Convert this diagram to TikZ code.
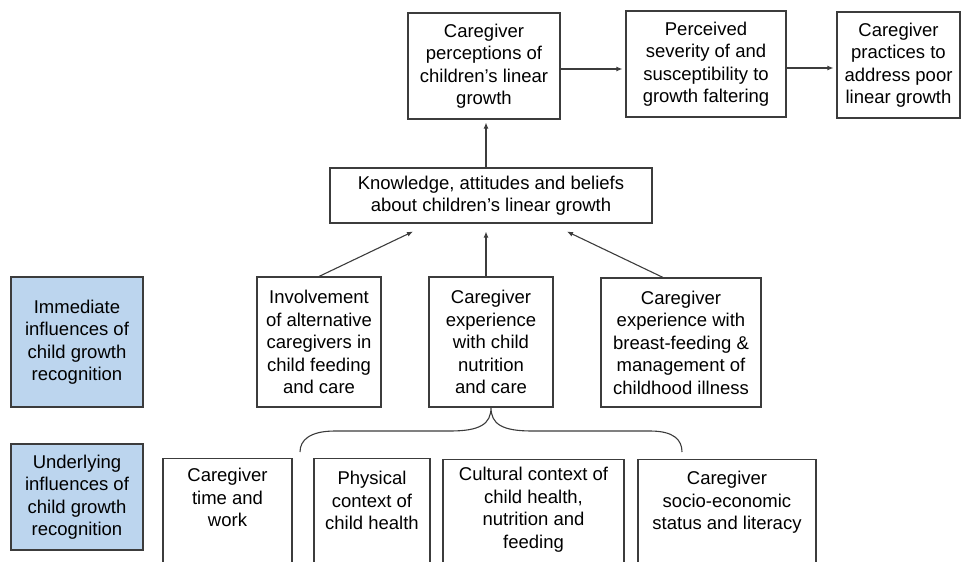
\documentclass[tikz,border=0pt]{standalone}
\usepackage{fontspec}
\setmainfont{Liberation Sans}
\usetikzlibrary{arrows.meta,positioning}
\definecolor{Edge}{HTML}{3C3C3C}
\definecolor{Band}{HTML}{BCD5EE}

\begin{document}
\begin{tikzpicture}[x=1pt,y=-1pt,
      stage/.style={draw=Edge,line width=1.1pt,fill=white,inner sep=0pt,align=center,font=\fontsize{18.5}{22.5}\selectfont},
      band/.style={stage,fill=Band},
      openbox/.style={draw=Edge,line width=1.1pt,inner sep=0pt,minimum height=150pt,anchor=north},
      note/.style={align=center,inner sep=0pt,font=\fontsize{18.5}{22.5}\selectfont},
      arr/.style={-{Latex[length=6pt,width=5pt]},line width=1.1pt,draw=Edge}]
      \useasboundingbox (0,0) rectangle (961,562);
      % pathway along the top
      \node[stage,minimum width=152pt,minimum height=106pt] (perc) at (484,66) {Caregiver\\perceptions of\\children’s linear\\growth};
      \node[stage,minimum width=160pt,minimum height=106pt] (sev) at (706,64) {Perceived\\severity of and\\susceptibility to\\growth faltering};
      \node[stage,minimum width=123pt,minimum height=106pt] (prac) at (898.5,65) {Caregiver\\practices to\\address poor\\linear growth};
      \node[stage,minimum width=322pt,minimum height=55pt] (know) at (491,195.5) {Knowledge, attitudes and beliefs\\about children’s linear growth};
      % immediate influences
      \node[band,minimum width=132pt,minimum height=130pt] (imm) at (77,342) {Immediate\\influences of\\child growth\\recognition};
      \node[stage,minimum width=124pt,minimum height=130pt] (inv) at (319,342) {Involvement\\of alternative\\caregivers in\\child feeding\\and care};
      \node[stage,minimum width=124pt,minimum height=130pt] (exp) at (491,342) {Caregiver\\experience\\with child\\nutrition\\and care};
      \node[stage,minimum width=160pt,minimum height=129pt] (brf) at (681,342.5) {Caregiver\\experience with\\breast-feeding \&\\management of\\childhood illness};
      % underlying influences
      \node[band,minimum width=132pt,minimum height=106pt] (und) at (77,497) {Underlying\\influences of\\child growth\\recognition};
      \node[openbox,minimum width=129pt] (tw) at (227.5,458) {};
      \node[openbox,minimum width=116pt] (pc) at (372,458) {};
      \node[openbox,minimum width=181pt] (cc) at (533.5,459) {};
      \node[openbox,minimum width=178pt] (ses) at (727,459) {};
      \node[note,below=10pt of tw.north] (twtext) {Caregiver\\time and\\work};
      \node[note,below=13pt of pc.north] (pctext) {Physical\\context of\\child health};
      \node[note,below=8pt of cc.north] (cctext) {Cultural context of\\child health,\\nutrition and\\feeding};
      \node[note,below=12pt of ses.north] (sestext) {Caregiver\\socio-economic\\status and literacy};
      \draw[arr,shorten >=3pt] ([yshift=-3pt]perc.east) -- ([yshift=-3pt]perc.east -| sev.west);
      \draw[arr,shorten >=3pt] ([yshift=-4pt]sev.east) -- ([yshift=-4pt]sev.east -| prac.west);
      \draw[arr,shorten >=3pt] ([xshift=-5pt]know.north) -- ([xshift=-5pt]know.north |- perc.south);
      \draw[arr] (inv.north) -- ([xshift=-78pt,yshift=-8pt]know.south);
      \draw[arr] ([xshift=-5pt]exp.north) -- ([xshift=-5pt,yshift=-8pt]know.south);
      \draw[arr] ([xshift=-18pt]brf.north) -- ([xshift=76pt,yshift=-8pt]know.south);
      \draw[line width=1.1pt,draw=Edge] (300,452) .. controls (300,440) and (310,431) .. (335,431) -- (450,431)
        .. controls (480,431) and (491,424) .. (exp.south) .. controls (491,424) and (502,431) .. (532,431) -- (650,431)
        .. controls (674,431) and (682,440) .. (682,452);
    \end{tikzpicture}
\end{document}
